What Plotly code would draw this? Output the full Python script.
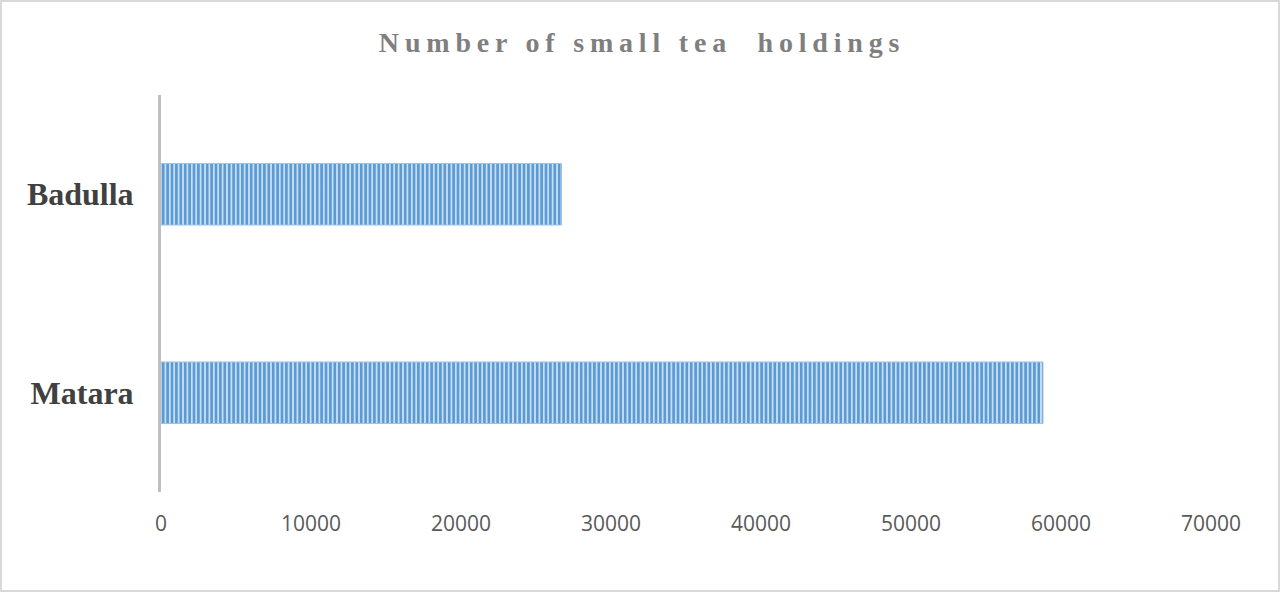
import plotly.graph_objects as go

categories = ["Matara", "Badulla"]
values = [58800, 26700]
x_ticks = [0, 10000, 20000, 30000, 40000, 50000, 60000, 70000]
title_text = "Number of small tea  holdings"

W, H = 1281, 592
ml, mr, mt, mb = 161, 70, 95, 100
pw, ph = W - ml - mr, H - mt - mb

fig = go.Figure()
fig.add_trace(go.Bar(
    y=categories, x=values, orientation="h", width=0.31,
    marker=dict(
        color="#C9DEF3",
        line=dict(color="#9DC3E6", width=1),
        pattern=dict(shape="|", fgcolor="#5B9BD5", bgcolor="#C9DEF3", size=4.4,
                     solidity=0.6, fgopacity=1),
    ),
    showlegend=False,
))

fig.update_layout(
    width=W, height=H,
    margin=dict(l=ml, r=mr, t=mt, b=mb),
    paper_bgcolor="white", plot_bgcolor="white",
    title=dict(
        text='<b><span style="letter-spacing:5.8px">' + title_text + '</span></b>',
        x=(642 - ml) / pw, xref="paper", xanchor="center",
        y=1 - 42 / H, yanchor="middle",
        font=dict(family="Liberation Serif", size=28, color="#7F7F7F"),
    ),
    xaxis=dict(
        range=[0, 70000], tickvals=x_ticks, ticktext=[str(v) for v in x_ticks],
        showgrid=False, zeroline=False, showline=False,
        tickfont=dict(family="Open Sans", size=21, color="#595959"),
        ticks="", ticklabelstandoff=17,
    ),
    yaxis=dict(
        showgrid=False, zeroline=False, showline=True, linecolor="#BFBFBF", linewidth=3,
        tickfont=dict(family="Liberation Serif", size=32, color="#404040", weight="bold"),
        ticks="", ticklabelstandoff=18,
    ),
    shapes=[dict(
        type="rect", xref="paper", yref="paper",
        x0=-(ml - 1) / pw, x1=(W - 2 - ml) / pw,
        y0=-(mb - 1) / ph, y1=(H - mb - 1) / ph,
        line=dict(color="#D9D9D9", width=2), fillcolor="rgba(0,0,0,0)", layer="below",
    )],
)

fig.write_html("out.html")
